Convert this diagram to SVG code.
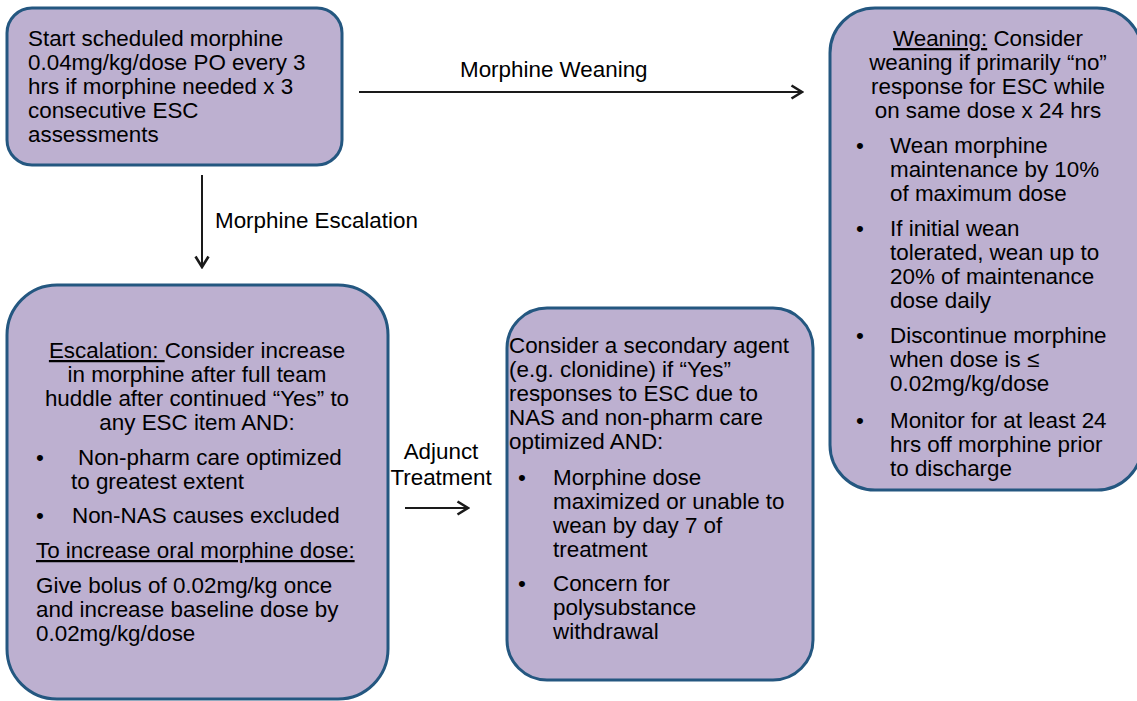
<svg xmlns="http://www.w3.org/2000/svg" width="1137" height="701" viewBox="0 0 1137 701">
<style>
.box{fill:#bdb0d0;stroke:#245780;stroke-width:3}
text{font-family:"Liberation Sans",Arial,sans-serif;font-size:22.4px;fill:#000}
.c{text-anchor:middle}
.u{text-decoration:underline}
.conn{stroke:#1a1a1a;stroke-width:2;fill:none}
</style>
<defs>
<marker id="ah" viewBox="0 0 14 16" refX="12" refY="8" markerWidth="14" markerHeight="16" markerUnits="userSpaceOnUse" orient="auto">
<path d="M1.5,1.5 L12,8 L1.5,14.5" fill="none" stroke="#1a1a1a" stroke-width="2.6" stroke-linejoin="miter"/>
</marker>
</defs>
<rect width="1137" height="701" fill="#fff"/>

<g id="start">
<rect class="box" x="7" y="8" width="335" height="157" rx="25"/>
<text x="28" y="46">Start scheduled morphine</text>
<text x="28" y="70">0.04mg/kg/dose PO every 3</text>
<text x="28" y="94">hrs if morphine needed x 3</text>
<text x="28" y="118">consecutive ESC</text>
<text x="28" y="142">assessments</text>
</g>

<g id="weaning">
<rect class="box" x="830" y="8" width="312" height="482" rx="45"/>
<text class="c" x="988" y="46"><tspan class="u">Weaning:</tspan> Consider</text>
<text class="c" x="988" y="70">weaning if primarily “no”</text>
<text class="c" x="988" y="94">response for ESC while</text>
<text class="c" x="988" y="118">on same dose x 24 hrs</text>
<text x="856" y="153">•</text>
<text x="890" y="153">Wean morphine</text>
<text x="890" y="177">maintenance by 10%</text>
<text x="890" y="201">of maximum dose</text>
<text x="856" y="236">•</text>
<text x="890" y="236">If initial wean</text>
<text x="890" y="260">tolerated, wean up to</text>
<text x="890" y="284">20% of maintenance</text>
<text x="890" y="308">dose daily</text>
<text x="856" y="343">•</text>
<text x="890" y="343">Discontinue morphine</text>
<text x="890" y="367">when dose is ≤</text>
<text x="890" y="391">0.02mg/kg/dose</text>
<text x="856" y="428">•</text>
<text x="890" y="428">Monitor for at least 24</text>
<text x="890" y="452">hrs off morphine prior</text>
<text x="890" y="476">to discharge</text>
</g>

<g id="escalation">
<rect class="box" x="7" y="285" width="381" height="414" rx="50"/>
<text class="c" x="197" y="358"><tspan class="u">Escalation: </tspan>Consider increase</text>
<text class="c" x="197" y="382">in morphine after full team</text>
<text class="c" x="197" y="406">huddle after continued “Yes” to</text>
<text class="c" x="197" y="430">any ESC item AND:</text>
<text x="36" y="465">•</text>
<text x="78" y="465">Non-pharm care optimized</text>
<text x="71" y="489">to greatest extent</text>
<text x="36" y="523">•</text>
<text x="72" y="523">Non-NAS causes excluded</text>
<text class="u" x="36" y="558">To increase oral morphine dose:</text>
<text x="36" y="593">Give bolus of 0.02mg/kg once</text>
<text x="36" y="617">and increase baseline dose by</text>
<text x="36" y="641">0.02mg/kg/dose</text>
</g>

<g id="adjunct">
<rect class="box" x="507" y="308" width="306" height="372" rx="40"/>
<text x="509" y="353">Consider a secondary agent</text>
<text x="509" y="377">(e.g. clonidine) if “Yes”</text>
<text x="509" y="401">responses to ESC due to</text>
<text x="509" y="425">NAS and non-pharm care</text>
<text x="509" y="449">optimized AND:</text>
<text x="518" y="485">•</text>
<text x="553" y="485">Morphine dose</text>
<text x="553" y="509">maximized or unable to</text>
<text x="553" y="533">wean by day 7 of</text>
<text x="553" y="557">treatment</text>
<text x="518" y="591">•</text>
<text x="553" y="591">Concern for</text>
<text x="553" y="615">polysubstance</text>
<text x="553" y="639">withdrawal</text>
</g>

<g id="connectors">
<line class="conn" x1="359" y1="92" x2="802" y2="92" marker-end="url(#ah)"/>
<text x="460" y="77">Morphine Weaning</text>
<line class="conn" x1="202" y1="175" x2="202" y2="267" marker-end="url(#ah)"/>
<text x="215" y="228">Morphine Escalation</text>
<line class="conn" x1="405" y1="508" x2="468" y2="508" marker-end="url(#ah)"/>
<text class="c" x="441" y="459">Adjunct</text>
<text class="c" x="441" y="485">Treatment</text>
</g>
</svg>
